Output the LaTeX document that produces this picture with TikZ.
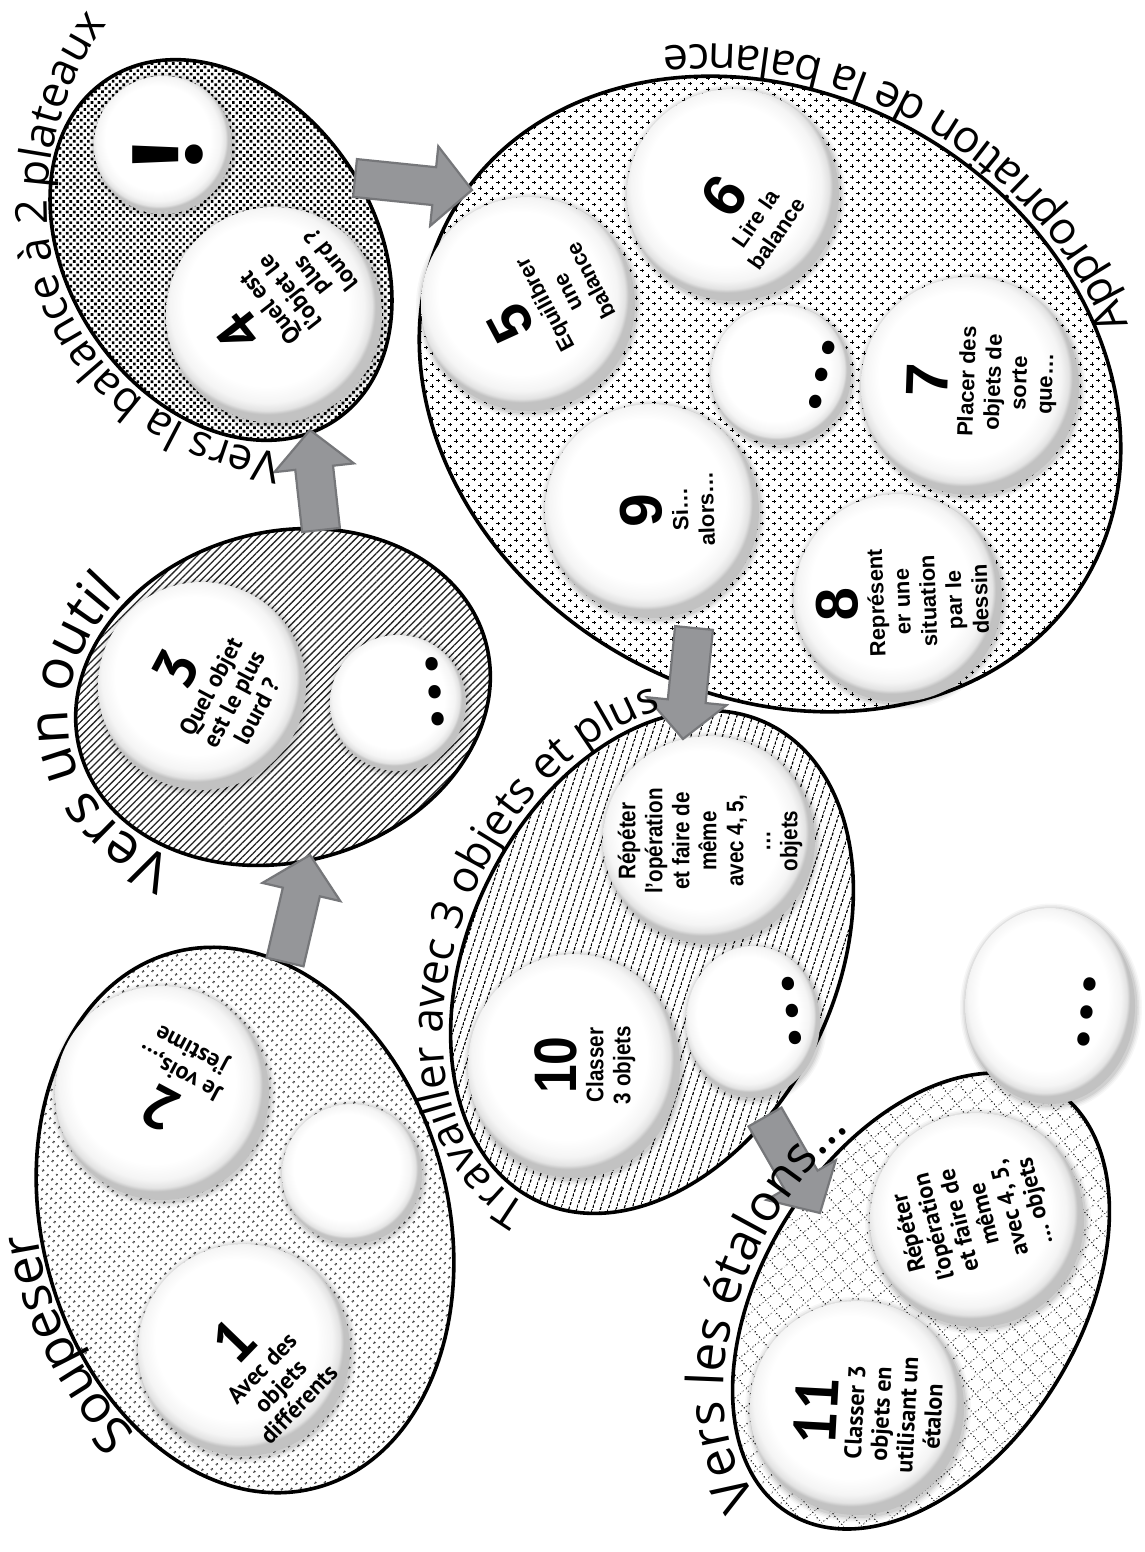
\documentclass[tikz,border=0pt]{standalone}
\usepackage{fontspec}
\usetikzlibrary{patterns.meta,decorations.text,calc}
\newfontfamily\labfont{Open Sans}
\newfontfamily\bubfont{Liberation Sans}
\newfontfamily\narfont{Liberation Sans}[FakeStretch=0.86]
\newfontfamily\humfont{PT Sans}
\newfontfamily\dotfont{Poppins}

\definecolor{arrowfill}{RGB}{149,150,153}
\definecolor{arrowline}{RGB}{118,119,122}

% white button with a soft grey rim
\pgfdeclareradialshading{bubble}{\pgfpoint{-3bp}{4bp}}{%
  color(0bp)=(white); color(19bp)=(white); color(22.5bp)=(black!4);
  color(24.2bp)=(black!11); color(25bp)=(black!24); color(50bp)=(black!24)}

% fill patterns of the six groups
\tikzdeclarepattern{
  name=plusmarks, type=uncolored,
  bounding box={(-2.5pt,-2.5pt) and (8.5pt,8pt)},
  tile size={(12pt,11pt)},
  code={\draw[line width=0.9pt] (-1.8pt,0pt) -- (1.8pt,0pt) (0pt,-1.8pt) -- (0pt,1.8pt)
          (4.2pt,5.5pt) -- (7.8pt,5.5pt) (6pt,3.7pt) -- (6pt,7.3pt);}
}
\tikzdeclarepattern{
  name=dashlines, type=uncolored,
  bounding box={(0pt,-0.6pt) and (3.2pt,0.6pt)},
  tile size={(4.6pt,7.5pt)},
  tile transformation={rotate=72},
  code={\fill (0pt,-0.6pt) rectangle (3.2pt,0.6pt);}
}
\tikzdeclarepattern{
  name=dotgrid, type=uncolored,
  bounding box={(0pt,0pt) and (14pt,14pt)},
  tile size={(14pt,14pt)},
  tile transformation={rotate=40},
  code={\foreach \k in {1.75,5.25,8.75,12.25}{\fill (\k pt,1.75pt) circle (0.75pt) (1.75pt,\k pt) circle (0.75pt);}}
}

\tikzset{
  grp/.style={draw=black, line width=3.6pt, pattern color=black},
  atxt/.style={font=\bubfont\bfseries\fontsize{22}{26}\selectfont, align=center, inner sep=0pt},
  ntxt/.style={font=\narfont\bfseries\fontsize{24}{27}\selectfont, align=center, inner sep=0pt},
  htxt/.style={font=\humfont\bfseries\fontsize{24}{26}\selectfont, align=center, inner sep=0pt},
  dotstxt/.style={font=\dotfont\bfseries\fontsize{66}{66}\selectfont, inner sep=0pt},
  lab/.style 2 args={decorate, decoration={text along path, text align=center,
      text={|\labfont\fontsize{#1}{#1}\selectfont|#2}}},
  arrowbox/.style={fill=arrowfill, draw=arrowline, line width=2.2pt, line join=miter}
}
\newcommand\bignum[1]{{\fontsize{60}{60}\selectfont #1}}
\newcommand\threedots{.\kern9pt.\kern9pt.}

% bubble: name, x, y (downwards), x radius, y radius
\newcommand\bubble[5]{%
  \foreach \k/\o in {6/0.03,4.5/0.04,3/0.05,1.5/0.07}{%
    \fill[black,opacity=\o] (#2+1,-#3-1.5) ellipse [x radius=#4pt+\k pt, y radius=#5pt+\k pt];}
  \shade[shading=bubble] (#2,-#3) ellipse [x radius=#4pt, y radius=#5pt];
  \coordinate (#1) at (#2,-#3);
}

% block arrow from #1 to the tip #2
\newcommand\blockarrow[3]{%
  \coordinate (#3h) at ($(#2)!38pt!(#1)$);
  \path[arrowbox]
    ($(#1)!19pt!90:(#2)$) -- ($(#3h)!19pt!-90:(#1)$) -- ($(#3h)!40pt!-90:(#1)$) -- (#2)
    -- ($(#3h)!40pt!90:(#1)$) -- ($(#3h)!19pt!90:(#1)$) -- ($(#1)!19pt!-90:(#2)$) -- cycle;
}

\begin{document}
\begin{tikzpicture}[x=1pt,y=1pt]
\useasboundingbox (0,0) rectangle (1145,-1552);
\fill[white] (0,0) rectangle (1145,-1552);

% ---------- groups ----------
\begin{scope}[shift={(245,-1220)},rotate=15]
  \path[grp, pattern={Dots[distance=6.4pt,radius=1.25pt,angle=45]}] (0,0) ellipse [x radius=203pt, y radius=277pt];
\end{scope}
\begin{scope}[shift={(283,-697)},rotate=15]
  \path[grp, pattern={Lines[angle=45,distance=5pt,line width=1.3pt]}, pattern color=black!85] (0,0) ellipse [x radius=210pt, y radius=165pt];
\end{scope}
\begin{scope}[shift={(221,-250)},rotate=-56]
  \path[grp, pattern={Dots[distance=5pt,radius=1.9pt,angle=45]}] (0,0) ellipse [x radius=205pt, y radius=153pt];
\end{scope}
\begin{scope}[shift={(770,-394)},rotate=-30]
  \path[grp, pattern=plusmarks] (0,0) ellipse [x radius=366pt, y radius=300pt];
\end{scope}
\begin{scope}[shift={(652,-962)},rotate=64]
  \path[grp, pattern=dashlines] (0,0) ellipse [x radius=265pt, y radius=183pt];
\end{scope}
\begin{scope}[shift={(921,-1301)},rotate=58]
  \path[grp, pattern=dotgrid] (0,0) ellipse [x radius=250pt, y radius=158pt];
\end{scope}

% ---------- bubbles ----------
\bubble{b1}{244}{1350}{106}{106}
\bubble{b2}{162}{1093}{107}{107}
\bubble{bA}{352}{1174}{70}{70}
\bubble{b3}{202}{686}{104}{104}
\bubble{bB}{398}{703}{68}{68}
\bubble{bX}{163}{145}{69}{69}
\bubble{b4}{274}{315}{108}{108}
\bubble{b5}{528}{304}{107}{107}
\bubble{b6}{733}{195}{106}{106}
\bubble{bD}{781}{375}{70}{70}
\bubble{b7}{970}{386}{109}{109}
\bubble{b9}{652}{511}{107}{107}
\bubble{b8}{898}{598}{104}{104}
\bubble{b10}{574}{1066}{106}{112}
\bubble{bR}{709}{840}{106}{104}
\bubble{bE}{753}{1022}{67}{76}
\bubble{b11}{857}{1408}{107}{107}
\bubble{bR2}{977}{1220}{107}{107}
\bubble{bL}{1050}{1006}{85}{98}

% ---------- arrows ----------
\coordinate (a1s) at (285,-962);  \coordinate (a1t) at (310,-855);
\coordinate (a2s) at (321,-530);  \coordinate (a2t) at (310,-430);
\coordinate (a3s) at (355,-178);  \coordinate (a3t) at (472,-190);
\coordinate (a4s) at (694,-628);  \coordinate (a4t) at (683,-739);
\coordinate (a5s) at (765,-1117); \coordinate (a5t) at (820,-1213);
\blockarrow{a1s}{a1t}{a1}
\blockarrow{a2s}{a2t}{a2}
\blockarrow{a3s}{a3t}{a3}
\blockarrow{a4s}{a4t}{a4}
\blockarrow{a5s}{a5t}{a5}

% ---------- bubble texts ----------
\node[htxt, rotate=46]  (t1) at (262,-1368) {\bignum{1}\\Avec des\\objets\\différents};
\node[htxt, rotate=152] (t2) at (174,-1083) {\bignum{2}\\Je vois,…\\j’estime};
\node[htxt, rotate=62]  (t3) at (211,-687)  {\bignum{3}\\Quel objet\\est le plus\\lourd ?};
\node[htxt, rotate=128] (t4) at (280,-300)  {\bignum{4}\\Quel est\\l’objet le\\plus\\lourd ?};
\node[font=\dotfont\bfseries\fontsize{96}{96}\selectfont, inner sep=0pt, rotate=90] (tX) at (168,-155) {!};
\node[atxt, rotate=118] (t5) at (545,-305)  {\bignum{5}\\Equilibrer\\une\\balance};
\node[atxt, rotate=55]  (t6) at (745,-211)  {\bignum{6}\\Lire la\\balance};
\node[atxt, rotate=88]  (t7) at (982,-382)  {\bignum{7}\\Placer des\\objets de\\sorte\\que…};
\node[atxt, rotate=92]  (t8) at (902,-602)  {\bignum{8}\\Représent\\er une\\situation\\par le\\dessin};
\node[atxt, rotate=92]  (t9) at (667,-510)  {\bignum{9}\\Si…\\alors…};
\node[ntxt, rotate=90]  (t10) at (585,-1065) {\bignum{10}\\Classer\\3 objets};
\node[ntxt, rotate=90]  (tR) at (710,-841)  {Répéter\\l’opération\\et faire de\\même\\avec 4, 5,\\…\\objets};
\node[htxt, rotate=87]  (t11) at (868,-1413) {\bignum{11}\\Classer 3\\objets en\\utilisant un\\étalon};
\node[htxt, rotate=104] (tR2) at (973,-1217) {Répéter\\l’opération\\et faire de\\même\\avec 4, 5,\\… objets};
\node[dotstxt, rotate=-84]  (dB) at (435,-692)  {\threedots};
\node[dotstxt, rotate=-104] (dD) at (822,-375)  {\threedots};
\node[dotstxt, rotate=-82]  (dE) at (792,-1011) {\threedots};
\node[dotstxt, rotate=-97]  (dL) at (1087,-1012) {\threedots};

% ---------- group titles along the outlines ----------
\begin{scope}[shift={(245,-1220)},rotate=15]
  \path[lab={52}{Soupeser}] (258:207pt and 281pt) arc [start angle=258, end angle=138, x radius=207pt, y radius=281pt];
\end{scope}
\begin{scope}[shift={(283,-697)},rotate=15]
  \path[lab={56}{Vers un outil}] (250:218pt and 173pt) arc [start angle=250, end angle=104, x radius=218pt, y radius=173pt];
\end{scope}
\path[lab={44}{Vers la balance à 2 plateaux}] (292,-455) .. controls (200,-445) and (105,-395) .. (65,-300)
  .. controls (40,-240) and (45,-170) .. (60,-120) .. controls (72,-78) and (90,-42) .. (114,-16);
\begin{scope}[shift={(770,-394)},rotate=-30]
  \path[lab={45}{Appropriation de la balance}] (29:398pt and 332pt) arc [start angle=29, end angle=149, x radius=398pt, y radius=332pt];
\end{scope}
\begin{scope}[shift={(652,-962)},rotate=64]
  \path[lab={44}{Travailler avec 3 objets et plus}] (200:273pt and 191pt) arc [start angle=200, end angle=12, x radius=273pt, y radius=191pt];
\end{scope}
\begin{scope}[shift={(921,-1301)},rotate=58]
  \path[lab={51}{Vers les étalons...}] (192:259pt and 167pt) arc [start angle=192, end angle=48, x radius=259pt, y radius=167pt];
\end{scope}
\end{tikzpicture}
\end{document}
